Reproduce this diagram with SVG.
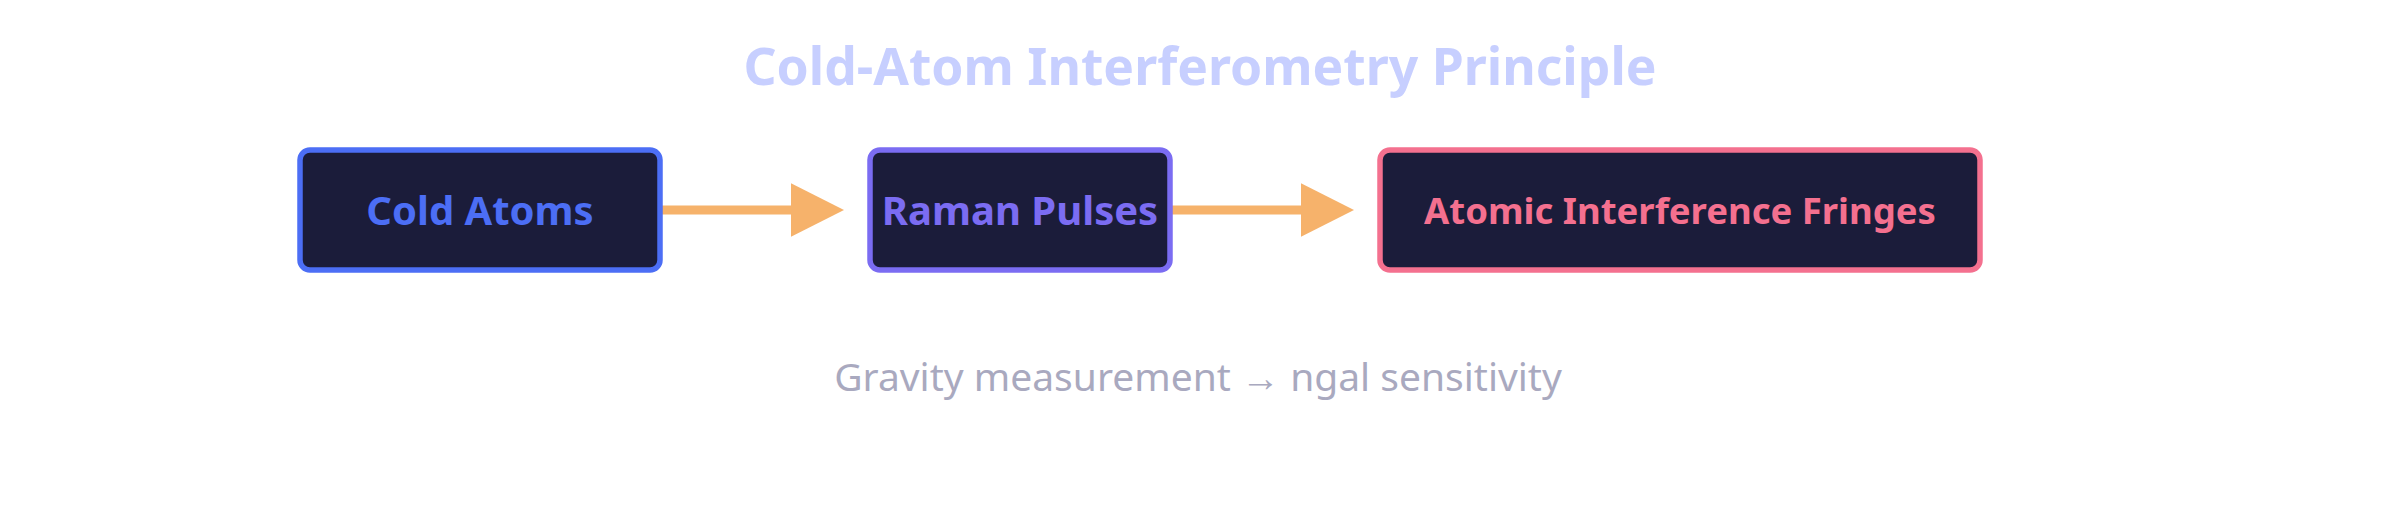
<svg xmlns="http://www.w3.org/2000/svg" width="2400" height="510" viewBox="0 0 2400 510">
<defs>
<style>
.bg{fill:#ffffff}
.title{font-family:"Noto Sans","Open Sans",sans-serif;font-weight:700;font-size:51.6px;fill:#C7CFFF;text-anchor:middle}
.box{fill:#1B1C3A;stroke-width:5.5}
.lbl{font-family:"Noto Sans","Open Sans",sans-serif;font-weight:700;font-size:40px;text-anchor:middle}
.sub{font-family:"Noto Sans","Open Sans",sans-serif;font-weight:400;font-size:39px;fill:#A9A9BF;text-anchor:middle}
.edge{stroke:#F6B26B;stroke-width:9;fill:none}
</style>
<marker id="ah" markerUnits="userSpaceOnUse" markerWidth="54" markerHeight="54" refX="1" refY="26.7" orient="auto" viewBox="0 0 54 54">
<path d="M0,0 L53,26.7 L0,53.4 z" fill="#F6B26B"/>
</marker>
</defs>
<rect class="bg" x="0" y="0" width="2400" height="510"/>
<text class="title" x="1200" y="85">Cold-Atom Interferometry Principle</text>
<g id="edges">
<line class="edge" x1="660" y1="210" x2="792" y2="210" marker-end="url(#ah)"/>
<line class="edge" x1="1170" y1="210" x2="1302" y2="210" marker-end="url(#ah)"/>
</g>
<g id="node-cold-atoms">
<rect class="box" x="300" y="150" width="360" height="120" rx="10" stroke="#4C6EF5"/>
<text class="lbl" x="480" y="225" fill="#4C6EF5">Cold Atoms</text>
</g>
<g id="node-raman-pulses">
<rect class="box" x="870" y="150" width="300" height="120" rx="10" stroke="#7B6CF2"/>
<text class="lbl" x="1020" y="225" fill="#7B6CF2">Raman Pulses</text>
</g>
<g id="node-fringes">
<rect class="box" x="1380" y="150" width="600" height="120" rx="10" stroke="#F4708F"/>
<text class="lbl" x="1680" y="224" fill="#F4708F" style="font-size:36.5px">Atomic Interference Fringes</text>
</g>
<text class="sub" x="1198" y="391">Gravity measurement → ngal sensitivity</text>
</svg>
